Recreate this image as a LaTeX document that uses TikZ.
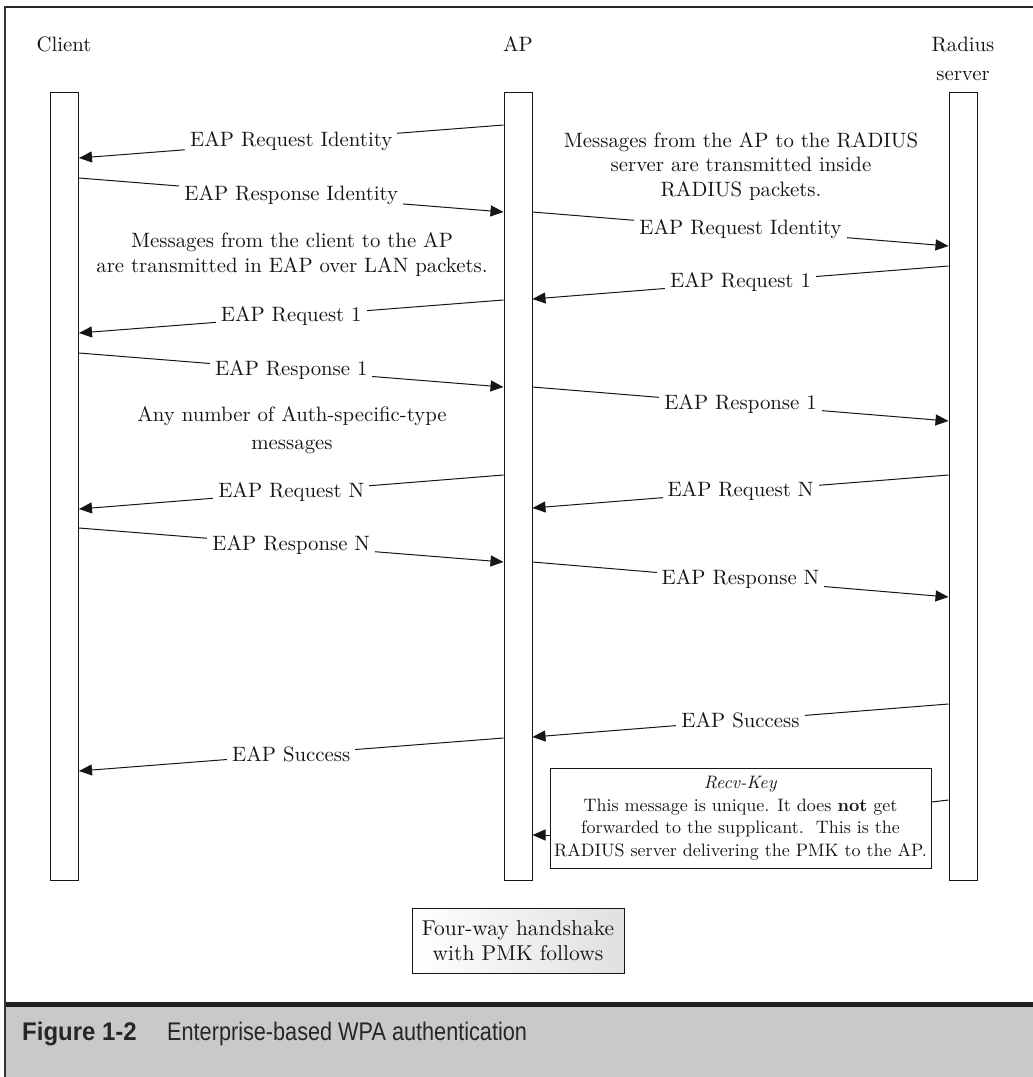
\documentclass[tikz,border=0pt]{standalone}
\usepackage{fontspec}
\setmainfont{lmroman10-regular.otf}[ItalicFont=lmroman10-italic.otf, BoldFont=lmroman10-bold.otf, BoldItalicFont=lmroman10-bolditalic.otf]
\newfontfamily\capfont[FakeStretch=0.85]{Liberation Sans}
\newfontfamily\capbold[FakeStretch=0.94]{Liberation Sans Bold}
\usetikzlibrary{arrows.meta}
\newcommand\dgmfont{\fontsize{20.8}{24.5}\selectfont}
\newcommand\rkfont{\fontsize{18}{22.6}\selectfont}
\definecolor{capgray}{HTML}{C8C9CB}
\definecolor{ink}{HTML}{161616}
\begin{document}
\begin{tikzpicture}[x=1pt,y=-1pt,
  every node/.style={text=ink},
  lifeline/.style={draw=ink, line width=1pt, minimum width=28pt, minimum height=788pt, inner sep=0pt, anchor=north},
  msg/.style={draw=ink, line width=1pt, -{Triangle[length=13pt,width=11pt]}},
  lbl/.style={fill=white, inner xsep=5pt, inner ysep=1pt, font=\dgmfont},
  note/.style={align=center, inner sep=0pt, font=\dgmfont},
  head/.style={anchor=base, inner sep=0pt, font=\dgmfont},
]
\useasboundingbox (0,0) rectangle (1033,1077);

% frame and caption bar
\fill[capgray] (5,1005) rectangle (1033,1077);
\draw[line width=5pt, color=black!88] (5,1004.5) -- (1033,1004.5);
\draw[line width=2.4pt, color=black!85] (4,7.2) -- (1033,7.2);
\draw[line width=2pt, color=black!80] (5,6) -- (5,1077);

% headers
\node[head] (hc) at (64,51) {Client};
\node[head] (ha) at (518,51) {AP};
\node[head] (hr1) at (963,51) {Radius};
\node[head] (hr2) at (963,80) {server};

% lifelines
\node[lifeline] (cl) at (64.5,92) {};
\node[lifeline] (ap) at (518,92) {};
\node[lifeline] (rs) at (963,92) {};

% notes
\node[note] (n1) at (292,254.8) {Messages from the client to the AP\\are transmitted in EAP over LAN packets.};
\node[note] (n2) at (741,166.3) {Messages from the AP to the RADIUS\\server are transmitted inside\\RADIUS packets.};
\node[note] (n3) at (292,430.3) {Any number of Auth-specific-type\\[3pt]messages};

% messages
\draw[msg] (ap.west |- 0,125) -- node[lbl] {EAP Request Identity} (cl.east |- 0,158);
\draw[msg] (cl.east |- 0,178) -- node[lbl] {EAP Response Identity} (ap.west |- 0,212);
\draw[msg] (ap.east |- 0,212) -- node[lbl] {EAP Request Identity} (rs.west |- 0,246);
\draw[msg] (rs.west |- 0,266) -- node[lbl] {EAP Request 1} (ap.east |- 0,299);
\draw[msg] (ap.west |- 0,300) -- node[lbl] {EAP Request 1} (cl.east |- 0,333);
\draw[msg] (cl.east |- 0,353) -- node[lbl] {EAP Response 1} (ap.west |- 0,387);
\draw[msg] (ap.east |- 0,387) -- node[lbl] {EAP Response 1} (rs.west |- 0,421);
\draw[msg] (rs.west |- 0,475) -- node[lbl] {EAP Request N} (ap.east |- 0,508);
\draw[msg] (ap.west |- 0,475) -- node[lbl] {EAP Request N} (cl.east |- 0,509);
\draw[msg] (cl.east |- 0,528) -- node[lbl] {EAP Response N} (ap.west |- 0,562);
\draw[msg] (ap.east |- 0,562) -- node[lbl] {EAP Response N} (rs.west |- 0,597);
\draw[msg] (rs.west |- 0,704) -- node[lbl] {EAP Success} (ap.east |- 0,737);
\draw[msg] (ap.west |- 0,738) -- node[lbl] {EAP Success} (cl.east |- 0,771);

% Recv-Key box
\node[draw=ink, line width=1pt, minimum width=381pt, minimum height=100pt, align=center, inner sep=0pt, font=\rkfont] (rk) at (740.5,818)
  {\textit{Recv-Key}\\This message is unique. It does \textbf{not} get\\forwarded to the supplicant.\ \ This is the\\RADIUS server delivering the PMK to the AP.};
\draw[draw=ink, line width=1pt] (rs.west |- 0,800) -- (rk.east |- 0,802);
\draw[msg] (rk.west |- 0,835) -- (ap.east |- 0,835);

% four-way handshake box
\node[draw=ink, line width=1pt, minimum width=212pt, minimum height=65pt, align=center, inner sep=0pt,
  left color=white, right color=black!12, font=\fontsize{21.5}{25}\selectfont] (fw) at (518,940.5)
  {Four-way handshake\\with PMK follows};

% caption
\node[anchor=base west, inner sep=0pt, text=black!85, font=\capbold\fontsize{25.5}{30}\selectfont] (fig) at (22,1040) {Figure 1-2};
\node[anchor=base west, inner sep=0pt, text=black!85, font=\capfont\fontsize{25.5}{30}\selectfont] (cap) at (167,1040) {Enterprise-based WPA authentication};
\end{tikzpicture}
\end{document}
